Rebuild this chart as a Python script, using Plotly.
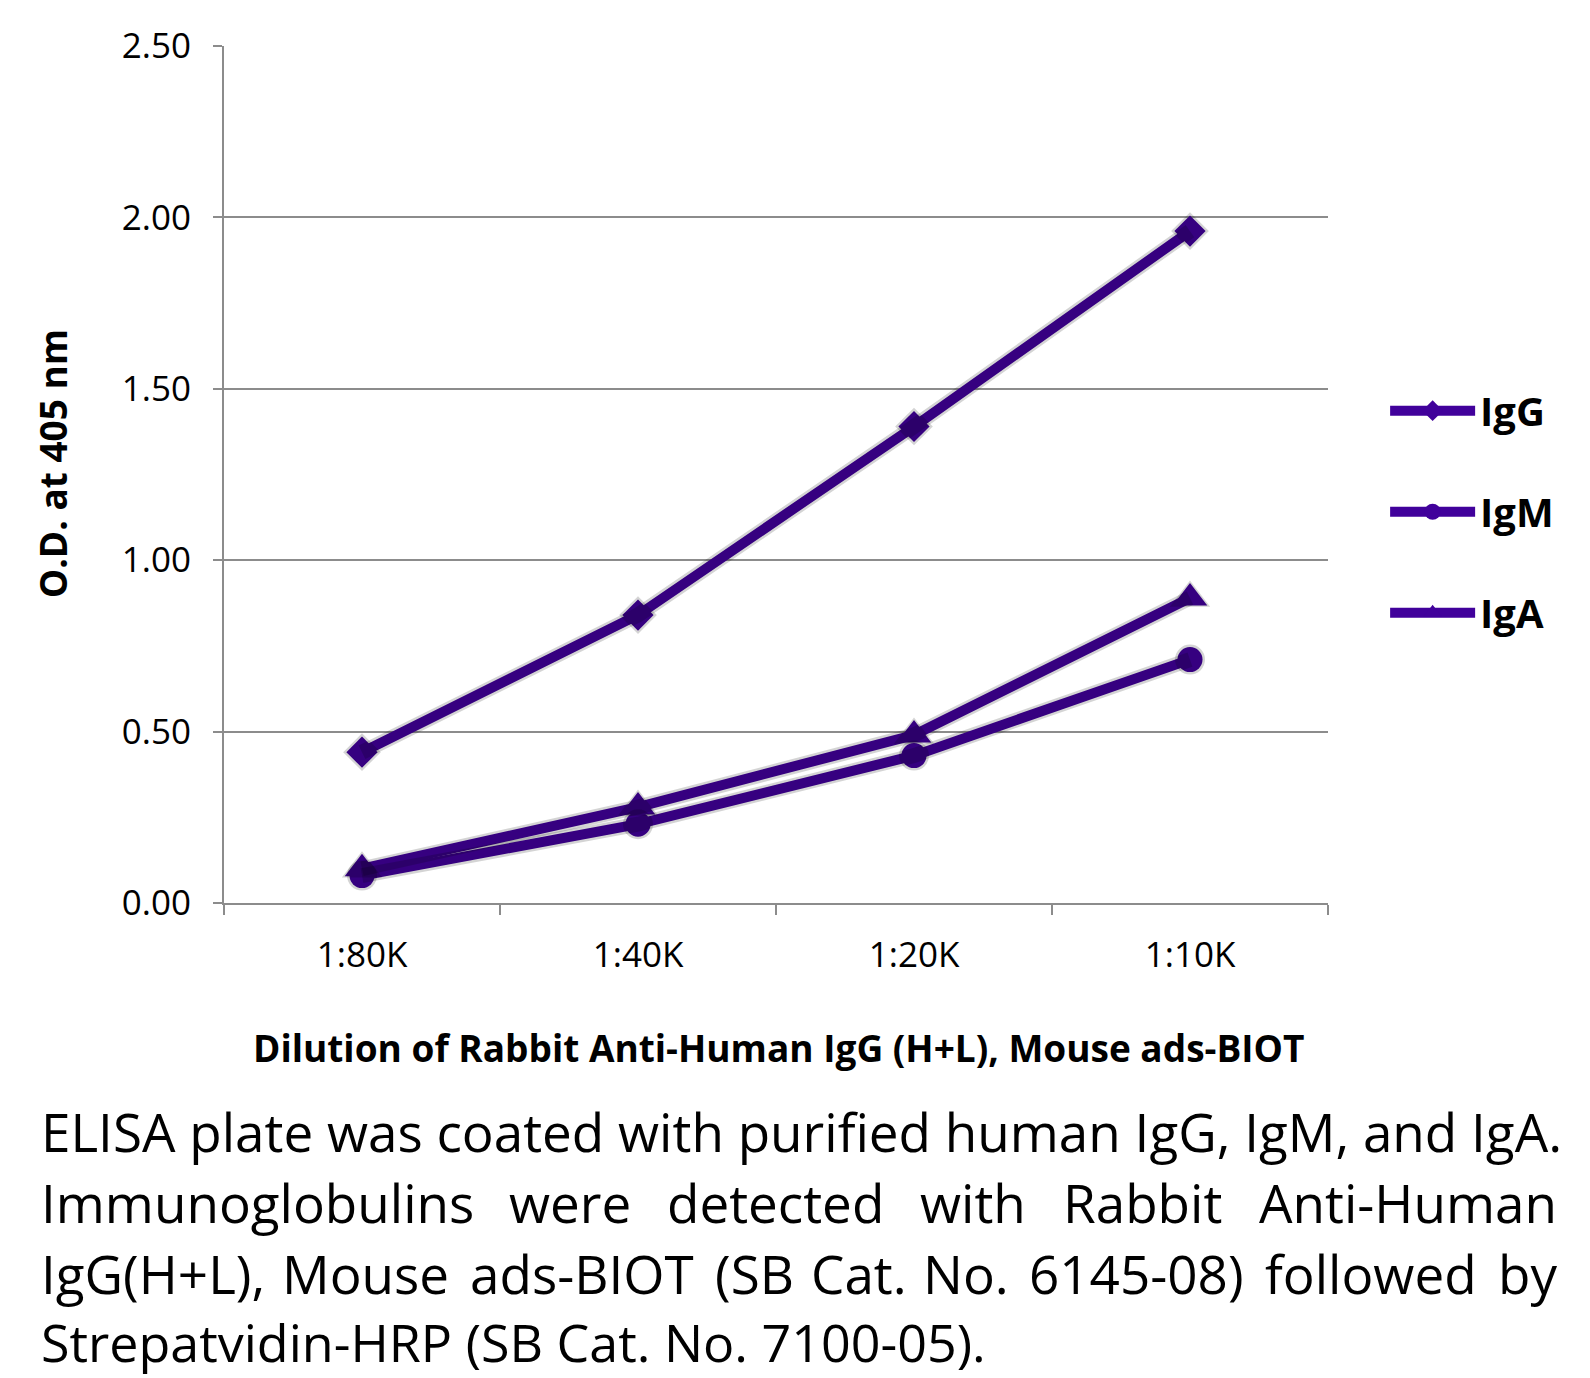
import plotly.graph_objects as go

categories = ["1:80K", "1:40K", "1:20K", "1:10K"]
igg = [0.44, 0.84, 1.39, 1.96]
igm = [0.08, 0.23, 0.43, 0.71]
iga = [0.10, 0.28, 0.49, 0.89]
series_names = ["IgG", "IgM", "IgA"]
series_values = [igg, igm, iga]
series_symbols = ["diamond", "circle", "triangle-up"]
series_sizes = [24, 25, 30]
y_ticks = [0, 0.5, 1.0, 1.5, 2.0, 2.5]

caption_line1 = "ELISA plate was coated with purified human IgG, IgM, and IgA."
caption_line2 = ["Immunoglobulins", "were", "detected", "with", "Rabbit", "Anti-Human"]
caption_line3 = ["IgG(H+L),", "Mouse", "ads-BIOT", "(SB", "Cat.", "No.", "6145-08)", "followed", "by"]
caption_line4 = "Strepatvidin-HRP (SB Cat. No. 7100-05)."

PURPLE = "#41019B"
GRID = "#8C8C8C"
W, H = 1590, 1378
SX, SY = 5, 7
ML, PW = 224, 1104 + SX
PT, PH = 46, 857 + SY

def px(x):
    return (x - ML) / PW

def py(y):
    return (PT + PH - y) / PH

fig = go.Figure()

# drop shadows
for name, vals, sym, sz in zip(series_names, series_values, series_symbols, series_sizes):
    fig.add_trace(go.Scatter(
        x=categories, y=vals, mode="lines+markers", xaxis="x2", yaxis="y2",
        line=dict(color="rgba(0,0,0,0.17)", width=15),
        marker=dict(symbol=sym, size=sz + 5, color="rgba(0,0,0,0.17)"),
        showlegend=False, hoverinfo="skip"))

for name, vals, sym, sz in zip(series_names, series_values, series_symbols, series_sizes):
    fig.add_trace(go.Scatter(
        x=categories, y=vals, mode="lines+markers", name=name,
        line=dict(color=PURPLE, width=10),
        marker=dict(symbol=sym, size=sz, color=PURPLE),
        legendgroup=name))

s = 1.014
annos = []
annos.append(dict(text="<b>Dilution of Rabbit Anti-Human IgG (H+L), Mouse ads-BIOT</b>",
                  x=px(768 * s), y=py(1033 * s), xref="paper", yref="paper",
                  showarrow=False, xanchor="center", yanchor="middle",
                  font=dict(size=37, family="Open Sans", color="black")))
annos.append(dict(text="<b>O.D. at 405 nm</b>", textangle=-90,
                  x=px(52 * s), y=py(457 * s), xref="paper", yref="paper",
                  showarrow=False, xanchor="center", yanchor="middle",
                  font=dict(size=37, family="Open Sans", color="black")))

cap_font = dict(size=53, family="Open Sans", color="black")
line_y = [1116, 1186, 1256, 1323]
annos.append(dict(text=caption_line1, x=px(38 * s), y=py(line_y[0] * s),
                  xref="paper", yref="paper", showarrow=False,
                  xanchor="left", yanchor="middle", font=cap_font))
annos.append(dict(text=caption_line4, x=px(38 * s), y=py(line_y[3] * s),
                  xref="paper", yref="paper", showarrow=False,
                  xanchor="left", yanchor="middle", font=dict(size=52, family="Open Sans", color="black")))
l2_centers = [253, 562.5, 764.5, 960, 1126.5, 1391]
l3_centers = [159, 360.75, 573.5, 744.25, 847.5, 952.75, 1120.5, 1351.75, 1497]
for words, centers, ly in [(caption_line2, l2_centers, line_y[1]), (caption_line3, l3_centers, line_y[2])]:
    n = len(words)
    for i, (w, c) in enumerate(zip(words, centers)):
        if i == 0:
            xa, xx = "left", 38
        elif i == n - 1:
            xa, xx = "right", 1537
        else:
            xa, xx = "center", c
        annos.append(dict(text=w, x=px(xx * s), y=py(ly * s), xref="paper", yref="paper",
                          showarrow=False, xanchor=xa, yanchor="middle", font=cap_font))

tick_font = dict(size=35, family="Open Sans", color="black")
fig.update_layout(
    width=W, height=H,
    margin=dict(l=ML, r=W - ML - PW, t=PT, b=H - PT - PH, autoexpand=False),
    paper_bgcolor="white", plot_bgcolor="rgba(0,0,0,0)",
    font=dict(family="Open Sans", color="black"),
    xaxis=dict(domain=[0, (PW - SX) / PW], type="category", range=[-0.5, 3.5],
               categoryorder="array", categoryarray=categories,
               tickson="boundaries", ticks="outside", ticklen=10, tickwidth=2, tickcolor=GRID,
               showline=True, linecolor=GRID, linewidth=2, showgrid=False, zeroline=False,
               tickfont=tick_font, ticklabelstandoff=20),
    yaxis=dict(domain=[SY / PH, 1], range=[0, 2.5], tickvals=y_ticks, tickformat=".2f",
               ticks="outside", ticklen=9, tickwidth=2, tickcolor=GRID,
               showline=True, linecolor=GRID, linewidth=2,
               showgrid=True, gridcolor=GRID, gridwidth=2, zeroline=False,
               tickfont=tick_font, ticklabelstandoff=15),
    xaxis2=dict(domain=[SX / PW, 1], type="category", range=[-0.5, 3.5],
                categoryorder="array", categoryarray=categories,
                overlaying="x", anchor="y2", visible=False),
    yaxis2=dict(domain=[0, (PH - SY) / PH], range=[0, 2.5], overlaying="y",
                anchor="x2", visible=False),
    legend=dict(x=px(1366 * s), y=py(373 * s), xanchor="left", yanchor="top",
                font=dict(size=40, family="Open Sans", color="black", weight="bold"),
                itemwidth=85, tracegroupgap=46, traceorder="grouped",
                bgcolor="rgba(0,0,0,0)"),
    annotations=annos,
)

fig.write_html("out.html", config={"displayModeBar": False},
               post_script="document.body.style.margin='0';")
